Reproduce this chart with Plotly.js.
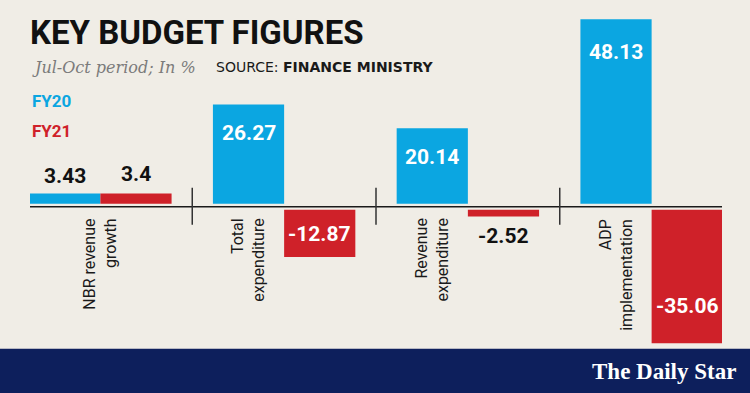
<!DOCTYPE html>
<html><head><meta charset="utf-8">
<script src="https://cdn.plot.ly/plotly-3.0.1.min.js"></script>
<style>html,body{margin:0;padding:0;background:#f0ede6;}#chart{width:750px;height:393px;}</style>
</head><body><div id="chart"></div>
<script>
const categories = ['NBR revenue growth', 'Total expenditure', 'Revenue expenditure', 'ADP implementation'];
const categoryLabels = ['NBR revenue<br>growth', 'Total<br>expenditure', 'Revenue<br>expenditure', 'ADP<br>implementation'];
const fy20 = [3.43, 26.27, 20.14, 48.13];
const fy21 = [3.4, -12.87, -2.52, -35.06];
const fy20Labels = ['3.43', '26.27', '20.14', '48.13'];
const fy21Labels = ['3.4', '-12.87', '-2.52', '-35.06'];

const BG = '#f0ede6', BLUE = '#0ba6e1', RED = '#cf2129', NAVY = '#0d1f5c';
const COND = 'Roboto, "DejaVu Sans Condensed", sans-serif';
const BARGAP = 0.225;
const off = (1 - BARGAP) / 4;

const traces = [
  {type: 'bar', name: 'FY20', x: categories, y: fy20, marker: {color: BLUE}, hoverinfo: 'none'},
  {type: 'bar', name: 'FY21', x: categories, y: fy21, marker: {color: RED}, hoverinfo: 'none'}
];

const ann = [];
// value labels
const blueShift = [17, -29, -29, -33];
const blueColor = ['#111', '#fff', '#fff', '#fff'];
const redShift = [20, 23, -19, 37];
const redColor = ['#111', '#fff', '#111', '#fff'];
fy20.forEach((v, i) => ann.push({x: i - off, y: v, xref: 'x', yref: 'y', text: fy20Labels[i], showarrow: false,
  yshift: blueShift[i], font: {family: COND, size: 21, color: blueColor[i], weight: 'bold'}}));
fy21.forEach((v, i) => ann.push({x: i + off, y: v, xref: 'x', yref: 'y', text: fy21Labels[i], showarrow: false,
  yshift: redShift[i], font: {family: COND, size: 21, color: redColor[i], weight: 'bold'}}));
// category labels
categoryLabels.forEach((t, i) => ann.push({x: i === 0 ? i : i - off, y: 0, xref: 'x', yref: 'y', text: t, showarrow: false,
  textangle: -90, yanchor: 'top', xanchor: 'center', align: 'right', yshift: -10,
  font: {family: COND, size: 16, color: '#1a1a1a'}}));
// subtitle, source, legend
ann.push({xref: 'paper', yref: 'paper', x: 0, y: 1, xanchor: 'left', yanchor: 'middle', yshift: -55,
  text: '<i>Jul-Oct period; In %</i>', showarrow: false, font: {family: '"DejaVu Serif", serif', size: 16, color: '#7b7b7b'}});
ann.push({xref: 'paper', yref: 'paper', x: 0, y: 1, xanchor: 'left', yanchor: 'middle', xshift: 184, yshift: -55,
  text: 'SOURCE: <b>FINANCE MINISTRY</b>', showarrow: false, font: {family: '"DejaVu Sans", sans-serif', size: 14, color: '#1a1a1a'}});
ann.push({xref: 'paper', yref: 'paper', x: 0, y: 1, xanchor: 'left', yanchor: 'middle', yshift: -89,
  text: '<b>FY20</b>', showarrow: false, font: {family: COND, size: 17, color: BLUE}});
ann.push({xref: 'paper', yref: 'paper', x: 0, y: 1, xanchor: 'left', yanchor: 'middle', yshift: -119,
  text: '<b>FY21</b>', showarrow: false, font: {family: COND, size: 17, color: RED}});
// logo
ann.push({xref: 'paper', yref: 'paper', x: 1, y: 0, xanchor: 'right', yanchor: 'middle', xshift: 16, yshift: -24,
  text: '<b>The Daily Star</b>', showarrow: false, font: {family: '"Liberation Serif", serif', size: 23, color: '#ffffff'}});

const shapes = [
  {type: 'rect', xref: 'paper', yref: 'y', x0: 0, x1: 1, y0: -0.77, y1: 0.77, fillcolor: BG, line: {width: 0}, layer: 'above'},
  {type: 'line', xref: 'paper', yref: 'y', x0: 0, x1: 1, y0: 0, y1: 0, line: {color: '#1a1a1a', width: 1.5}, layer: 'above'},
  {type: 'rect', xref: 'paper', yref: 'paper', x0: -0.06, x1: 1.06, y0: -0.2, y1: -0.005, fillcolor: NAVY, line: {width: 0}, layer: 'above'}
];
[0.5, 1.5, 2.5].forEach(x => shapes.push({type: 'line', xref: 'x', yref: 'y', x0: x, x1: x, y0: -4.6, y1: 4.9,
  line: {color: '#333', width: 1.5}, layer: 'above'}));

const layout = {
  width: 750, height: 393,
  paper_bgcolor: BG, plot_bgcolor: BG,
  margin: {l: 30, r: 28, t: 12, b: 45.6},
  barmode: 'group', bargap: BARGAP, bargroupgap: 0,
  showlegend: false,
  title: {text: '<b>KEY BUDGET FIGURES</b>', xref: 'container', yref: 'container', x: 30 / 750, xanchor: 'left',
    y: 1 - 32 / 393, yanchor: 'middle', font: {family: COND, size: 33, color: '#111'}},
  xaxis: {type: 'category', range: [-0.383, 3.383], visible: false, fixedrange: true},
  yaxis: {range: [-36, 50], visible: false, zeroline: false, showgrid: false, fixedrange: true},
  annotations: ann, shapes: shapes
};
Plotly.newPlot('chart', traces, layout, {staticPlot: true, displayModeBar: false});
</script></body></html>
